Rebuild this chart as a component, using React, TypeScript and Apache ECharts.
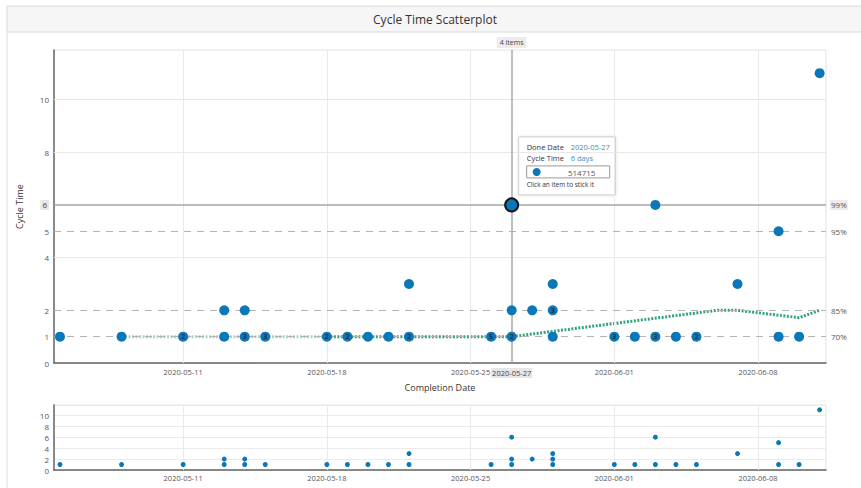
import React, { useEffect, useRef } from "react";
import * as echarts from "echarts";

// ---- data ----
const itemDates = [
  "2020-05-05", "2020-05-08", "2020-05-11", "2020-05-13", "2020-05-13",
  "2020-05-14", "2020-05-14", "2020-05-15", "2020-05-18", "2020-05-19",
  "2020-05-20", "2020-05-21", "2020-05-22", "2020-05-22", "2020-05-26",
  "2020-05-27", "2020-05-27", "2020-05-27", "2020-05-28", "2020-05-29",
  "2020-05-29", "2020-05-29", "2020-06-01", "2020-06-02", "2020-06-03",
  "2020-06-03", "2020-06-04", "2020-06-05", "2020-06-07", "2020-06-09",
  "2020-06-09", "2020-06-10", "2020-06-11",
];
const cycleTimes = [
  1, 1, 1, 1, 2,
  1, 2, 1, 1, 1,
  1, 1, 1, 3, 1,
  1, 2, 6, 2, 1,
  2, 3, 1, 1, 1,
  6, 1, 1, 3, 1,
  5, 1, 11,
];
const itemCounts = [
  1, 1, 2, 1, 1,
  3, 1, 3, 2, 2,
  1, 1, 2, 1, 5,
  2, 1, 1, 1, 1,
  3, 1, 3, 1, 3,
  1, 1, 2, 1, 1,
  1, 1, 1,
];

const axisDates = ["2020-05-11", "2020-05-18", "2020-05-25", "2020-06-01", "2020-06-08"];
const pointerDate = "2020-05-27";
const yTickLabels = [0, 1, 2, 4, 5, 6, 8, 10];
const yGridValues = [4, 8, 10];
const percentileNames = ["99%", "95%", "85%", "70%"];
const percentileValues = [6, 5, 2, 1];
const trendLightDates = ["2020-05-08", "2020-05-18"];
const trendLightValues = [1, 1];
const trendDates = ["2020-05-18", "2020-05-22", "2020-05-27", "2020-06-06", "2020-06-07", "2020-06-10", "2020-06-11"];
const trendValues = [1, 1, 1, 2, 2, 1.72, 2];
const selectedDate = "2020-05-27";
const selectedCycle = 6;
const selectedId = "514715";

// ---- helpers ----
const BASE = Date.UTC(2020, 4, 11);
const DAY = 86400000;
const toDay = (s: string) => {
  const [y, m, d] = s.split("-").map(Number);
  return (Date.UTC(y, m - 1, d) - BASE) / DAY;
};
const fromDay = (v: number) => new Date(BASE + Math.round(v) * DAY).toISOString().slice(0, 10);

const FONT = "Open Sans";
const BLUE = "#0a78b8";
const GREEN = "#2fa57c";

export default function App() {
  const ref = useRef<HTMLDivElement>(null);

  useEffect(() => {
    if (!ref.current) return;
    const chart = echarts.init(ref.current, undefined, { renderer: "svg" });

    const xMin = toDay(itemDates[0]) - 0.29;
    const xMax = toDay(itemDates[itemDates.length - 1]) + 0.31;
    const yMax = Math.max(...cycleTimes) * 1.08;
    const pointerCount = itemDates.reduce(
      (s, d, i) => (d === pointerDate ? s + itemCounts[i] : s),
      0
    );

    const mainPoints = itemDates.map((d, i) => {
      const sel = d === selectedDate && cycleTimes[i] === selectedCycle;
      return {
        value: [toDay(d), cycleTimes[i], itemCounts[i]],
        symbolSize: sel ? 13 : 10,
        itemStyle: sel ? { color: BLUE, borderColor: "#151515", borderWidth: 2 } : undefined,
        z2: sel ? 10 : 1,
      };
    });
    const overviewPoints = itemDates.map((d, i) => [toDay(d), cycleTimes[i]]);

    const gridLine = () => ({ color: "#e9e9e9", width: 1, type: "solid" });
    const dashed = () => ({ color: "#b3b3b3", width: 1, type: [7, 6] });

    const markLines: any[] = [
      ...axisDates.map((d) => ({ xAxis: toDay(d), lineStyle: gridLine(), label: { show: false } })),
      ...yGridValues.map((v) => ({ yAxis: v, lineStyle: gridLine(), label: { show: false } })),
      ...percentileValues.map((v, i) => ({
        yAxis: v,
        lineStyle: i === 0 ? { color: "#a6a6a6", width: 1.5, type: "solid" } : dashed(),
        label: {
          show: true,
          position: "end",
          distance: 4,
          formatter: percentileNames[i],
          fontFamily: FONT,
          fontSize: 8,
          color: "#555",
          backgroundColor: i === 0 ? "#ececec" : "transparent",
          padding: [1, 1],
        },
      })),
      {
        xAxis: toDay(pointerDate),
        lineStyle: { color: "#a9a9a9", width: 1.5, type: "solid" },
        label: {
          show: true,
          position: "end",
          distance: 2,
          formatter: `${pointerCount} items`,
          fontFamily: FONT,
          fontSize: 7,
          color: "#444",
          backgroundColor: "#ececec",
          padding: [2, 3],
        },
      },
    ];

    const overviewLines = axisDates.map((d) => ({
      xAxis: toDay(d),
      lineStyle: gridLine(),
      label: { show: false },
    }));

    const axisLine = { show: true, onZero: false, lineStyle: { color: "#666", width: 1.5 } };

    chart.setOption({
      animation: false,
      textStyle: { fontFamily: FONT },
      grid: [
        { left: 54, right: 35, top: 50, height: 313, show: true, borderColor: "#e3e3e3", borderWidth: 1 },
        { left: 54, right: 35, top: 405, height: 65, show: true, borderColor: "#e3e3e3", borderWidth: 1 },
      ],
      xAxis: [
        {
          type: "value",
          gridIndex: 0,
          min: xMin,
          max: xMax,
          axisLine,
          axisTick: { show: false },
          splitLine: { show: false },
          axisLabel: {
            customValues: [...axisDates.map(toDay), toDay(pointerDate)],
            formatter: (v: number) =>
              fromDay(v) === pointerDate ? `{hl|${fromDay(v)}}` : fromDay(v),
            fontSize: 7.5,
            color: "#555",
            margin: 5,
            rich: {
              hl: { backgroundColor: "#e6e6e6", padding: [1, 1], fontSize: 7.5, color: "#444", fontFamily: FONT },
            },
          },
          name: "Completion Date",
          nameLocation: "middle",
          nameGap: 19,
          nameTextStyle: { fontSize: 9, color: "#333", fontFamily: FONT },
        },
        {
          type: "value",
          gridIndex: 1,
          min: xMin,
          max: xMax,
          axisLine,
          axisTick: { show: false },
          splitLine: { show: false },
          axisLabel: {
            customValues: axisDates.map(toDay),
            formatter: (v: number) => fromDay(v),
            fontSize: 7.5,
            color: "#555",
            margin: 4,
          },
        },
      ],
      yAxis: [
        {
          type: "value",
          gridIndex: 0,
          min: 0,
          max: yMax,
          axisLine,
          axisTick: { show: false },
          splitLine: { show: false },
          axisLabel: {
            customValues: yTickLabels,
            formatter: (v: number) => (v === selectedCycle ? `{hl|${v}}` : String(v)),
            fontSize: 8,
            color: "#555",
            margin: 5,
            rich: { hl: { backgroundColor: "#e6e6e6", padding: [1, 2], fontSize: 8, color: "#444", fontFamily: FONT } },
          },
          name: "Cycle Time",
          nameLocation: "middle",
          nameGap: 30,
          nameTextStyle: { fontSize: 9, color: "#333", fontFamily: FONT },
        },
        {
          type: "value",
          gridIndex: 1,
          min: 0,
          max: yMax,
          interval: 2,
          axisLine,
          axisTick: { show: false },
          splitLine: { show: true, lineStyle: { color: "#ebebeb" } },
          axisLabel: { fontSize: 8, color: "#555", margin: 5, showMaxLabel: false },
        },
      ],
      series: [
        {
          type: "line",
          xAxisIndex: 0,
          yAxisIndex: 0,
          z: 1,
          silent: true,
          data: trendLightDates.map((d, i) => [toDay(d), trendLightValues[i]]),
          showSymbol: false,
          lineStyle: { color: GREEN, width: 3, type: [2, 1.5], opacity: 0.45 },
          markLine: { symbol: "none", silent: true, animation: false, data: markLines },
        },
        {
          type: "line",
          xAxisIndex: 0,
          yAxisIndex: 0,
          z: 2,
          silent: true,
          data: trendDates.map((d, i) => [toDay(d), trendValues[i]]),
          showSymbol: false,
          lineStyle: { color: GREEN, width: 3, type: [2, 1.5] },
        },
        {
          type: "scatter",
          xAxisIndex: 0,
          yAxisIndex: 0,
          z: 5,
          data: mainPoints,
          itemStyle: { color: BLUE, opacity: 1 },
          label: {
            show: true,
            position: "inside",
            formatter: (p: any) => (p.value[2] > 1 ? String(p.value[2]) : ""),
            fontSize: 7,
            fontWeight: "bold",
            color: "#17324a",
            fontFamily: FONT,
          },
        },
        {
          type: "scatter",
          xAxisIndex: 1,
          yAxisIndex: 1,
          z: 5,
          data: overviewPoints,
          symbolSize: 5,
          itemStyle: { color: BLUE, opacity: 1 },
          markLine: { symbol: "none", silent: true, animation: false, data: overviewLines },
        },
      ],
    });

    const [px, py] = chart.convertToPixel({ xAxisIndex: 0, yAxisIndex: 0 }, [
      toDay(selectedDate),
      selectedCycle,
    ]) as number[];
    const bx = px + 7;
    const by = py - 68;
    const tStyle = { fontFamily: FONT, fontSize: 7.5, fill: "#333", verticalAlign: "middle" };

    chart.setOption({
      graphic: [
        {
          type: "rect",
          shape: { x: 7, y: 6, width: 860, height: 26 },
          style: { fill: "#f6f6f6", stroke: "#d9d9d9", lineWidth: 1 },
          silent: true,
        },
        {
          type: "line",
          shape: { x1: 7, y1: 32, x2: 7, y2: 488 },
          style: { stroke: "#dcdcdc", lineWidth: 1 },
          silent: true,
        },
        {
          type: "text",
          x: 435,
          y: 19,
          style: { text: "Cycle Time Scatterplot", fontFamily: FONT, fontSize: 12, fill: "#333", align: "center", verticalAlign: "middle" },
          silent: true,
        },
        {
          type: "group",
          x: bx,
          y: by,
          z: 100,
          children: [
            { type: "rect", shape: { x: 0, y: 0, width: 97, height: 58 }, style: { fill: "#fff", stroke: "#cfcfcf", lineWidth: 1, shadowBlur: 3, shadowColor: "rgba(0,0,0,0.12)" } },
            { type: "text", x: 8, y: 10, style: { ...tStyle, text: "Done Date" } },
            { type: "text", x: 52, y: 10, style: { ...tStyle, text: selectedDate, fill: "#3b8ec4" } },
            { type: "text", x: 8, y: 21, style: { ...tStyle, text: "Cycle Time" } },
            { type: "text", x: 52, y: 21, style: { ...tStyle, text: `${selectedCycle} days`, fill: "#3b8ec4" } },
            { type: "rect", shape: { x: 8, y: 29, width: 83, height: 12 }, style: { fill: "#fff", stroke: "#9a9a9a", lineWidth: 1 } },
            { type: "circle", shape: { cx: 18, cy: 35, r: 4 }, style: { fill: BLUE } },
            { type: "text", x: 63, y: 35.5, style: { ...tStyle, text: selectedId, fill: "#555", align: "center", fontSize: 8 } },
            { type: "text", x: 8, y: 48, style: { ...tStyle, text: "Click an item to stick it", fontSize: 6.5 } },
          ],
        },
      ],
    });

    return () => chart.dispose();
  }, []);

  return (
    <div
      ref={ref}
      style={{ position: "fixed", left: 0, top: 0, width: 861, height: 488, background: "#fff" }}
    />
  );
}
